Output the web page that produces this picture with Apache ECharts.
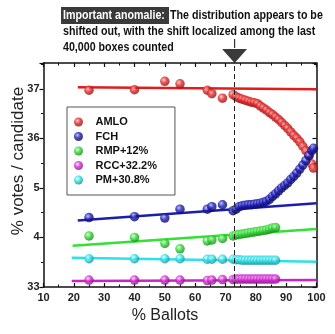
<!DOCTYPE html>
<html><head><meta charset="utf-8">
<script src="https://cdn.jsdelivr.net/npm/echarts@6/dist/echarts.min.js"></script>
<style>html,body{margin:0;padding:0;background:#fff}#c{width:335px;height:334px}</style>
</head><body><div id="c"></div>
<script>
const seriesNames = ['AMLO', 'FCH', 'RMP+12%', 'RCC+32.2%', 'PM+30.8%'];
const yTickValues = [33, 34, 35, 36, 37];
const yTickLabels = ['33', '4', '5', '36', '37'];
const xSparse = [25, 40, 50, 55, 64, 65.5, 69, 72.5];
const xDenseLong = [73.5, 74.5, 75.5, 76.5, 77.5, 78.5, 79.5, 80.5, 81.5, 82.5, 83.5, 84.5, 85.5, 86.5, 87.5, 88.5, 89.5, 90.5, 91.5, 92.5, 93.5, 94.5, 95.5, 96.5, 97.5, 98.5, 99];
const xDenseShort = [73.5, 74.5, 75.5, 76.5, 77.5, 78.5, 79.5, 80.5, 81.5, 82.5, 83.5, 84.5, 85.5, 86.5];

const amloSparse = [36.97, 36.98, 37.15, 37.10, 36.97, 36.90, 36.81, 36.88];
const amloDense = [36.84, 36.81, 36.79, 36.77, 36.75, 36.73, 36.72, 36.70, 36.65, 36.61, 36.57, 36.52, 36.48, 36.43, 36.38, 36.32, 36.26, 36.20, 36.13, 36.06, 36.00, 35.93, 35.84, 35.75, 35.65, 35.48, 35.40];
const fchSparse = [34.40, 34.42, 34.39, 34.57, 34.57, 34.62, 34.66, 34.54];
const fchDense = [34.57, 34.62, 34.64, 34.65, 34.66, 34.66, 34.67, 34.68, 34.69, 34.71, 34.73, 34.77, 34.83, 34.88, 34.94, 35.00, 35.05, 35.10, 35.17, 35.23, 35.30, 35.38, 35.46, 35.55, 35.65, 35.75, 35.80];
const rmpSparse = [34.03, 34.00, 33.88, 33.77, 33.93, 33.95, 33.98, 34.03];
const rmpDense = [34.05, 34.06, 34.07, 34.08, 34.09, 34.10, 34.11, 34.12, 34.13, 34.14, 34.15, 34.17, 34.19, 34.20];
const rccSparse = [33.14, 33.14, 33.14, 33.14, 33.13, 33.14, 33.15, 33.15];
const rccDense = [33.16, 33.16, 33.16, 33.16, 33.16, 33.16, 33.16, 33.16, 33.16, 33.16, 33.16, 33.16, 33.16, 33.16];
const pmSparse = [33.57, 33.57, 33.57, 33.57, 33.56, 33.56, 33.56, 33.56];
const pmDense = [33.55, 33.55, 33.54, 33.54, 33.54, 33.54, 33.54, 33.54, 33.54, 33.54, 33.54, 33.54, 33.54, 33.54];

const fitX = [[21.3, 100], [21.3, 100], [19.6, 100], [19.3, 100], [19.3, 100]];
const fitY = [[37.03, 36.99], [34.34, 34.69], [33.83, 34.17], [33.12, 33.14], [33.59, 33.51]];
const shiftX = 73;

const pointColors = [
  ['#ffc0c0', '#e02828', '#8a0c0c'],
  ['#b0b0ff', '#1a1ab0', '#08085a'],
  ['#d0ffd0', '#33d633', '#128012'],
  ['#ffc8ff', '#d030d0', '#801080'],
  ['#d8ffff', '#30dde6', '#108890']
];
const lineColors = ['#e01c1c', '#1c1cb0', '#33e033', '#cc22cc', '#2ee0ea'];

function pairs(xs, ys) { return xs.map((x, i) => [x, ys[i]]); }
const pointData = [
  pairs(xSparse, amloSparse).concat(pairs(xDenseLong, amloDense)),
  pairs(xSparse, fchSparse).concat(pairs(xDenseLong, fchDense)),
  pairs(xSparse, rmpSparse).concat(pairs(xDenseShort, rmpDense)),
  pairs(xSparse, rccSparse).concat(pairs(xDenseShort, rccDense)),
  pairs(xSparse, pmSparse).concat(pairs(xDenseShort, pmDense))
];

const FONT = 'Liberation Sans, Arial, Helvetica, sans-serif';
const chart = echarts.init(document.getElementById('c'), null, {renderer: 'canvas'});

const series = [];
seriesNames.forEach((name, i) => {
  series.push({
    name: name + '_fit', type: 'line', data: pairs(fitX[i], fitY[i]),
    showSymbol: false, symbol: 'none', silent: true, z: 2,
    lineStyle: {color: lineColors[i], width: 2.5}
  });
});
seriesNames.forEach((name, i) => {
  const c = pointColors[i];
  series.push({
    name: name, type: 'scatter', data: pointData[i], symbolSize: 9.5, z: 3,
    itemStyle: {
      color: {type: 'radial', x: 0.38, y: 0.35, r: 0.7,
        colorStops: [{offset: 0, color: c[0]}, {offset: 0.45, color: c[1]}, {offset: 1, color: c[2]}]}
    }
  });
});
series[5].markLine = {
  silent: true, symbol: 'none', label: {show: false},
  lineStyle: {color: '#222', type: [5, 3], width: 1},
  data: [{xAxis: shiftX}]
};

const axisLine = {show: true, lineStyle: {color: '#111', width: 1.5}};
chart.setOption({
  backgroundColor: '#fff',
  animation: false,
  grid: {left: 43.5, right: 18.5, top: 63, bottom: 47, containLabel: false},
  legend: {
    data: seriesNames, orient: 'vertical', left: 67, top: 107,
    icon: 'circle', itemWidth: 24, itemHeight: 9, itemGap: 2.5,
    padding: [9, 18, 9, 7],
    borderColor: '#555', borderWidth: 1, backgroundColor: '#fff',
    textStyle: {fontFamily: FONT, fontSize: 11, fontWeight: 'bold', color: '#111', lineHeight: 12},
    selectedMode: false
  },
  xAxis: [
    {type: 'value', position: 'bottom', min: 10, max: 100, interval: 10,
      axisLine: axisLine, splitLine: {show: false},
      axisTick: {show: true, inside: true, length: 4, lineStyle: {color: '#111', width: 1.2}},
      minorTick: {show: true, splitNumber: 2, length: 2.5, lineStyle: {color: '#111', width: 1}},
      axisLabel: {fontFamily: FONT, fontSize: 11, fontWeight: 'bold', color: '#222', margin: 5}},
    {type: 'value', position: 'top', min: 10, max: 100, interval: 10,
      axisLine: axisLine, splitLine: {show: false},
      axisTick: {show: true, inside: true, length: 4, lineStyle: {color: '#111', width: 1.2}},
      minorTick: {show: true, splitNumber: 2, length: 2.5, lineStyle: {color: '#111', width: 1}},
      axisLabel: {show: false}}
  ],
  yAxis: [
    {type: 'value', position: 'left', min: 33, max: 37.52, interval: 1,
      axisLine: axisLine, splitLine: {show: false},
      axisTick: {show: true, inside: false, length: 4, lineStyle: {color: '#111', width: 1.2}},
      minorTick: {show: true, splitNumber: 2, length: 2.5, lineStyle: {color: '#111', width: 1}},
      axisLabel: {fontFamily: FONT, fontSize: 11, fontWeight: 'bold', color: '#222', margin: 4, showMaxLabel: false,
        formatter: v => { const k = yTickValues.indexOf(Math.round(v * 100) / 100); return k >= 0 ? yTickLabels[k] : ''; }}},
    {type: 'value', position: 'right', min: 33, max: 37.52, interval: 1,
      axisLine: axisLine, splitLine: {show: false},
      axisTick: {show: true, inside: true, length: 4, lineStyle: {color: '#111', width: 1.2}},
      minorTick: {show: true, splitNumber: 2, length: 2.5, lineStyle: {color: '#111', width: 1}},
      axisLabel: {show: false}}
  ],
  series: series
});

const ax = chart.convertToPixel({xAxisIndex: 0}, shiftX);
const sx = 0.82;
const tStyle = (txt, color) => ({text: txt, fill: color, font: 'bold 13px ' + FONT, textVerticalAlign: 'middle', textAlign: 'left'});
chart.setOption({
  graphic: [
    {type: 'rect', left: 61, top: 7, shape: {width: 108, height: 17}, style: {fill: '#3a3a3a'}},
    {type: 'text', x: 63, y: 15.5, scaleX: sx, style: tStyle('Important anomalie:', '#fff')},
    {type: 'text', x: 170, y: 15.5, scaleX: sx, style: tStyle('The distribution appears to be', '#111')},
    {type: 'text', x: 63, y: 31.5, scaleX: sx, style: tStyle('shifted out, with the shift localized among the last', '#111')},
    {type: 'text', x: 63, y: 47, scaleX: sx, style: tStyle('40,000 boxes counted', '#111')},
    {type: 'line', shape: {x1: ax, y1: 39, x2: ax, y2: 48}, style: {stroke: '#333', lineWidth: 1.2}},
    {type: 'polygon', shape: {points: [[ax - 12.5, 49], [ax + 12.5, 49], [ax, 63]]}, style: {fill: '#3a3a3a'}},
    {type: 'text', x: 18, y: 161, rotation: Math.PI / 2,
      style: {text: '% votes / candidate', fill: '#222', font: '17px ' + FONT, textAlign: 'center', textVerticalAlign: 'middle'}},
    {type: 'text', x: 165, y: 316,
      style: {text: '% Ballots', fill: '#222', font: '16px ' + FONT, textAlign: 'center', textVerticalAlign: 'middle'}}
  ]
});
</script>
</body></html>
